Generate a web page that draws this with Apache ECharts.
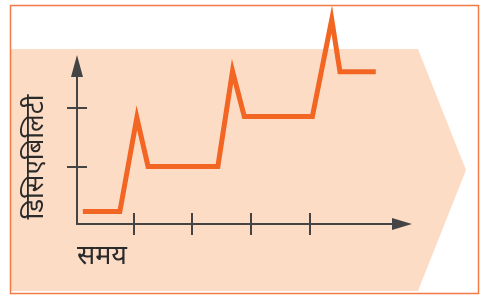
<!DOCTYPE html>
<html>
<head>
<meta charset="utf-8">
<script src="https://cdn.jsdelivr.net/npm/echarts@6/dist/echarts.min.js"></script>
<style>
html,body{margin:0;padding:0;background:#fff;}
#c{width:483px;height:295px;}
</style>
</head>
<body>
<div id="c"></div>
<script>
// Data (time units = x tick spacing, disability units = y tick spacing)
var timeValues = [0.14, 0.77, 1.06, 1.25, 2.44, 2.69, 2.89, 4.05, 4.38, 4.52, 5.13];
var disabilityValues = [0.25, 0.25, 1.83, 1.01, 1.01, 2.61, 1.85, 1.85, 3.48, 2.60, 2.60];
var xTicks = [1, 2, 3, 4];
var yTicks = [1, 2];
var xLabel = 'समय';
var yLabel = 'डिसिएबिलिटी';

var pts = timeValues.map(function (t, i) { return [t, disabilityValues[i]]; });
var axisColor = '#444444';
var fontFam = '"Noto Sans", "Noto Sans Devanagari", "Lohit Devanagari", sans-serif';

var chart = echarts.init(document.getElementById('c'), null, {renderer: 'canvas'});
var xBase = {
  type: 'value', min: 0.04, max: 5.577, gridIndex: 0, position: 'bottom',
  axisLabel: {show: false}, splitLine: {show: false}
};
var yBase = {
  type: 'value', min: 0.042, max: 2.697, gridIndex: 0, position: 'left',
  axisLabel: {show: false}, splitLine: {show: false}
};
chart.setOption({
  animation: false,
  grid: {left: 77, top: 66, right: 81, bottom: 71, containLabel: false},
  xAxis: [
    Object.assign({}, xBase, {
      axisLine: {show: true, onZero: false, symbol: ['none', 'triangle'], symbolSize: [12, 20],
        lineStyle: {color: axisColor, width: 2}},
      axisTick: {show: true, inside: false, length: 11, customValues: xTicks,
        lineStyle: {color: axisColor, width: 2}}
    }),
    Object.assign({}, xBase, {
      axisLine: {show: false, onZero: false},
      axisTick: {show: true, inside: true, length: 11, customValues: xTicks,
        lineStyle: {color: axisColor, width: 2}}
    })
  ],
  yAxis: [
    Object.assign({}, yBase, {
      axisLine: {show: true, onZero: false, symbol: ['none', 'triangle'], symbolSize: [12, 22],
        lineStyle: {color: axisColor, width: 2}},
      axisTick: {show: true, inside: false, length: 10, customValues: yTicks,
        lineStyle: {color: axisColor, width: 2}}
    }),
    Object.assign({}, yBase, {
      axisLine: {show: false, onZero: false},
      axisTick: {show: true, inside: true, length: 10, customValues: yTicks,
        lineStyle: {color: axisColor, width: 2}}
    })
  ],
  graphic: [
    {type: 'polygon', z: -10, silent: true,
      shape: {points: [[10, 49], [418, 49], [466, 170], [418, 291], [10, 291]]},
      style: {fill: '#fddcc6'}},
    {type: 'rect', z: -9, silent: true,
      shape: {x: 10.5, y: 5.5, width: 468, height: 288},
      style: {fill: 'none', stroke: '#f27a45', lineWidth: 1.5}},
    {type: 'text', x: 36, y: 157, rotation: Math.PI / 2, z: 5,
      style: {text: yLabel, fontSize: 26, fontFamily: fontFam, fill: '#2a2a2a',
        align: 'center', verticalAlign: 'middle'}},
    {type: 'text', x: 102, y: 256, z: 5,
      style: {text: xLabel, fontSize: 27, fontFamily: fontFam, fill: '#2a2a2a',
        align: 'center', verticalAlign: 'middle'}}
  ],
  series: [{
    type: 'line', xAxisIndex: 0, yAxisIndex: 0,
    data: pts, showSymbol: false, symbol: 'none', clip: false, z: 3,
    lineStyle: {color: '#f26522', width: 5, join: 'miter', miterLimit: 10, cap: 'butt'}
  }]
});
</script>
</body>
</html>
